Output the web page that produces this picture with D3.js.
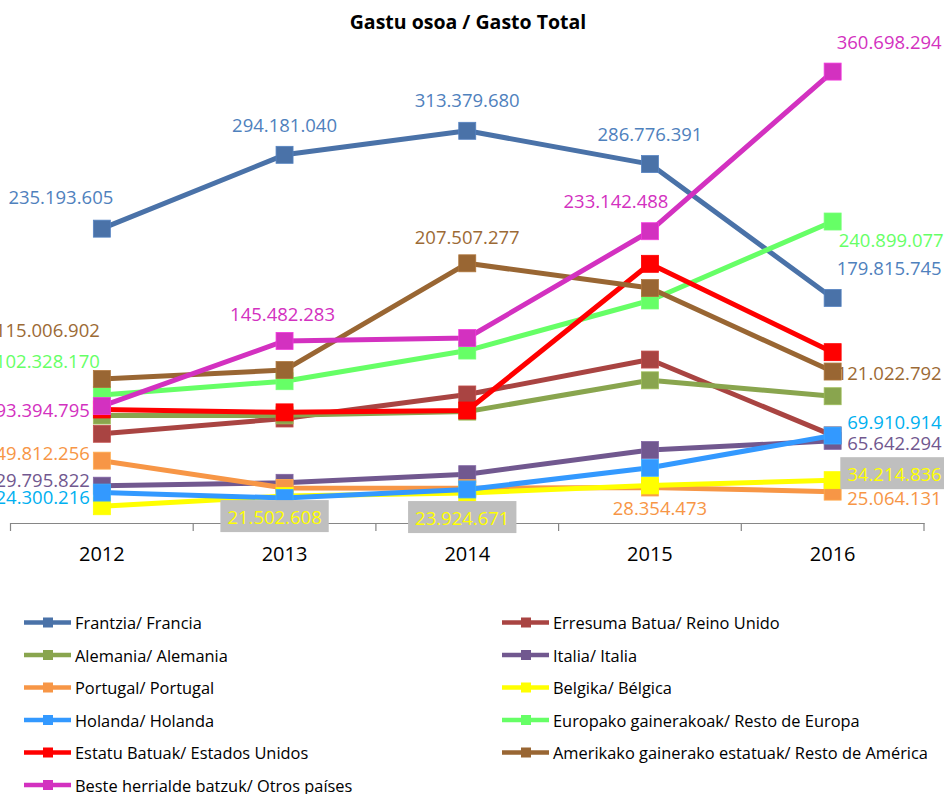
<!DOCTYPE html>
<html>
<head>
<meta charset="utf-8">
<script src="https://cdn.jsdelivr.net/npm/d3@7"></script>
<style>
  html, body { margin: 0; padding: 0; background: #fff; }
  svg { display: block; font-family: "Open Sans", "DejaVu Sans", sans-serif; }
</style>
</head>
<body>
<svg id="chart" width="944" height="794"></svg>
<script>
// Years on the category axis
const years = ["2012", "2013", "2014", "2015", "2016"];

// Total spending by origin (euros)
const francia      = [235193605, 294181040, 313379680, 286776391, 179815745];
const reinoUnido   = [71300000, 83500000, 102700000, 130600000, 70000000];
const alemania     = [85900000, 86000000, 89000000, 114000000, 101300000];
const italia       = [29795822, 32100000, 39000000, 58300000, 65642294];
const portugal     = [49812256, 28000000, 27800000, 28354473, 25064131];
const belgica      = [13400000, 21502608, 23924671, 30000000, 34214836];
const holanda      = [24300216, 20000000, 26800000, 44100000, 69910914];
const restoEuropa  = [102328170, 113300000, 137800000, 177800000, 240899077];
const eeuu         = [90700000, 88400000, 89900000, 207100000, 136500000];
const restoAmerica = [115006902, 122200000, 207507277, 187700000, 121022792];
const otros        = [93394795, 145482283, 147800000, 233142488, 360698294];

const seriesNames = [
  "Frantzia/ Francia",
  "Erresuma Batua/ Reino Unido",
  "Alemania/ Alemania",
  "Italia/ Italia",
  "Portugal/ Portugal",
  "Belgika/ Bélgica",
  "Holanda/ Holanda",
  "Europako gainerakoak/ Resto de Europa",
  "Estatu Batuak/ Estados Unidos",
  "Amerikako gainerako estatuak/ Resto de América",
  "Beste herrialde batzuk/ Otros países"
];
const seriesValues = [francia, reinoUnido, alemania, italia, portugal, belgica,
                      holanda, restoEuropa, eeuu, restoAmerica, otros];
const lineColors  = ["#4a72a8", "#a94442", "#89a54e", "#71588f", "#f79646", "#ffff00",
                     "#3399ff", "#66ff66", "#ff0000", "#996633", "#d331c0"];
const labelColors = ["#4f81bd", "#a94442", "#89a54e", "#71588f", "#f79646", "#ffff00",
                     "#00b0f0", "#66ff66", "#ff0000", "#9c6a35", "#d331c0"];

// Which points carry a value label, and where the label sits relative to its point
// [series, yearIndex, dx, dy, anchor, boxed]
const labelPlacement = [
  [0, 0, -41, -32, "middle", false],
  [0, 1, 0, -30, "middle", false],
  [0, 2, 0, -31, "middle", false],
  [0, 3, 0, -31, "middle", false],
  [0, 4, 109, -30, "end", false],
  [10, 0, -12, 3, "end", false],
  [10, 1, -2, -27, "middle", false],
  [10, 3, -34, -31, "middle", false],
  [10, 4, 109, -30, "end", false],
  [9, 0, -2, -50, "end", false],
  [9, 2, 0, -27, "middle", false],
  [9, 4, 109, 1, "end", false],
  [7, 0, -2, -34, "end", false],
  [7, 4, 111, 18, "end", false],
  [4, 0, -12, -8, "end", false],
  [4, 3, 10, 20, "middle", false],
  [4, 4, 109, 6, "end", false],
  [3, 0, -12, -6, "end", false],
  [3, 4, 109, 2, "end", false],
  [6, 0, -12, 4, "end", false],
  [6, 4, 109, -14, "end", false],
  [5, 1, -10, 20, "middle", true],
  [5, 2, -5, 24, "middle", true],
  [5, 4, 109, -7, "end", true]
];

const svg = d3.select("#chart");
const fmt = v => d3.format(",")(v).replace(/,/g, ".");

const x = d3.scaleBand().domain(years).range([10.5, 924]);
const y = d3.scaleLinear().domain([0, 400000000]).range([523, 22.4]);
const cx = yr => x(yr) + x.bandwidth() / 2;

// Title
svg.append("text")
  .attr("x", 468).attr("y", 21)
  .attr("text-anchor", "middle").attr("dominant-baseline", "central")
  .attr("font-weight", "bold").attr("font-size", 19.5).attr("fill", "#000")
  .text("Gastu osoa / Gasto Total");

// Category axis
const xAxis = d3.axisBottom(x).tickSize(0).tickFormat("");
const axisG = svg.append("g").attr("transform", `translate(0,${y(0)})`).call(xAxis);
axisG.select(".domain").attr("stroke", "#868686").attr("stroke-width", 1.2);
const bounds = years.map(yr => x(yr)).concat([x.range()[1]]);
axisG.selectAll("line.bound").data(bounds).join("line")
  .attr("class", "bound")
  .attr("x1", d => d).attr("x2", d => d)
  .attr("y1", 0).attr("y2", 8)
  .attr("stroke", "#868686").attr("stroke-width", 1.2);
svg.append("g").selectAll("text").data(years).join("text")
  .attr("x", d => cx(d)).attr("y", 553)
  .attr("text-anchor", "middle").attr("dominant-baseline", "central")
  .attr("font-size", 20).attr("fill", "#000")
  .text(d => d);

// Lines and markers, in series order
const line = d3.line().x((d, i) => cx(years[i])).y(d => y(d));
const ms = 17;
seriesValues.forEach((vals, s) => {
  const g = svg.append("g");
  g.append("path").datum(vals)
    .attr("d", line).attr("fill", "none")
    .attr("stroke", lineColors[s]).attr("stroke-width", 5)
    .attr("stroke-linejoin", "round");
  g.selectAll("rect").data(vals).join("rect")
    .attr("x", (d, i) => cx(years[i]) - ms / 2)
    .attr("y", d => y(d) - ms / 2)
    .attr("width", ms).attr("height", ms)
    .attr("fill", lineColors[s])
    .attr("stroke", d3.color(lineColors[s]).brighter(0.4)).attr("stroke-width", 0.8);
});

// Value labels
const lblG = svg.append("g");
labelPlacement.forEach(([s, i, dx, dy, anchor, boxed]) => {
  const v = seriesValues[s][i];
  const px = cx(years[i]) + dx, py = y(v) + dy;
  const grp = lblG.append("g");
  const t = grp.append("text")
    .attr("x", px).attr("y", py)
    .attr("text-anchor", anchor).attr("dominant-baseline", "central")
    .attr("font-size", 18.5).attr("fill", labelColors[s])
    .text(fmt(v));
  if (boxed) {
    const b = t.node().getBBox();
    grp.insert("rect", "text")
      .attr("x", b.x - 7).attr("y", py - 16)
      .attr("width", b.width + 14).attr("height", 32)
      .attr("fill", "#bfbfbf");
  }
});

// Legend in two columns
const legend = svg.append("g");
seriesNames.forEach((name, s) => {
  const col = s % 2, row = Math.floor(s / 2);
  const lx = col === 0 ? 24 : 502;
  const ly = 622.5 + row * 32.5;
  const g = legend.append("g").attr("transform", `translate(${lx},${ly})`);
  g.append("line").attr("x1", 0).attr("x2", 47).attr("y1", 0).attr("y2", 0)
    .attr("stroke", lineColors[s]).attr("stroke-width", 4.5);
  g.append("rect").attr("x", 19).attr("y", -5).attr("width", 10).attr("height", 10)
    .attr("fill", lineColors[s]);
  g.append("text").attr("x", 51).attr("y", 0)
    .attr("dominant-baseline", "central").attr("font-size", 16.4).attr("fill", "#000")
    .text(name);
});
</script>
</body>
</html>
